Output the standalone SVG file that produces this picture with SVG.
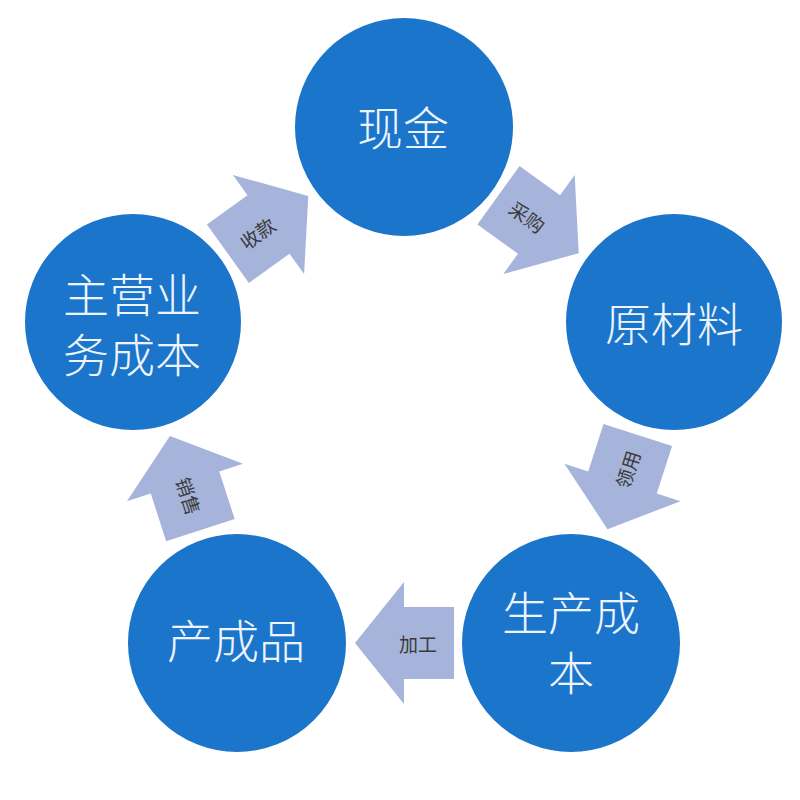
<svg xmlns="http://www.w3.org/2000/svg" width="800" height="800" viewBox="0 0 800 800">
<defs>
<style>
.arrow{fill:#a6b4db;}
.lbl{font-family:"Noto Sans CJK SC","Noto Sans",sans-serif;font-size:19px;fill:#3a3a3a;text-anchor:middle;dominant-baseline:central;}
.node{fill:#1b75cb;stroke:#ffffff;stroke-width:2;}
.ntxt{font-family:"Noto Sans CJK SC","Noto Sans",sans-serif;font-size:46px;font-weight:300;fill:#eef4fb;text-anchor:middle;dominant-baseline:central;}
</style>
<path id="arr" d="M -50 -36 L 0 -36 L 0 -61 L 49 0 L 0 61 L 0 36 L -50 36 Z"/>
</defs>
<rect width="800" height="800" fill="#ffffff"/>
<g id="connectors">
<use href="#arr" class="arrow" transform="translate(268.5 224.5) rotate(-35.7)"/>
<use href="#arr" class="arrow" transform="translate(539 224.5) rotate(35.8)"/>
<use href="#arr" class="arrow" transform="translate(622.5 482.5) rotate(107.8)"/>
<use href="#arr" class="arrow" transform="translate(404 643) rotate(180)"/>
<use href="#arr" class="arrow" transform="translate(185 482.5) rotate(-107.95)"/>
<text class="lbl" transform="translate(257.1 232.7) rotate(-35.7)">收款</text>
<text class="lbl" transform="translate(527.6 216.3) rotate(35.8)">采购</text>
<text class="lbl" transform="translate(626.8 469.2) rotate(-72.2)">领用</text>
<text class="lbl" transform="translate(418 643)">加工</text>
<text class="lbl" transform="translate(189.3 495.8) rotate(72.05)">销售</text>
</g>
<g id="node-cash">
<circle class="node" cx="404" cy="127" r="110"/>
<text class="ntxt" x="403" y="125">现金</text>
</g>
<g id="node-material">
<circle class="node" cx="674" cy="322" r="109"/>
<text class="ntxt" x="674" y="321">原材料</text>
</g>
<g id="node-production">
<circle class="node" cx="571" cy="643" r="110"/>
<text class="ntxt"><tspan x="571" y="610">生产成</tspan><tspan x="571" y="670">本</tspan></text>
</g>
<g id="node-product">
<circle class="node" cx="237" cy="643" r="110"/>
<text class="ntxt" x="236" y="638">产成品</text>
</g>
<g id="node-cost">
<circle class="node" cx="133" cy="322" r="109"/>
<text class="ntxt"><tspan x="132" y="292">主营业</tspan><tspan x="132" y="352">务成本</tspan></text>
</g>
</svg>
